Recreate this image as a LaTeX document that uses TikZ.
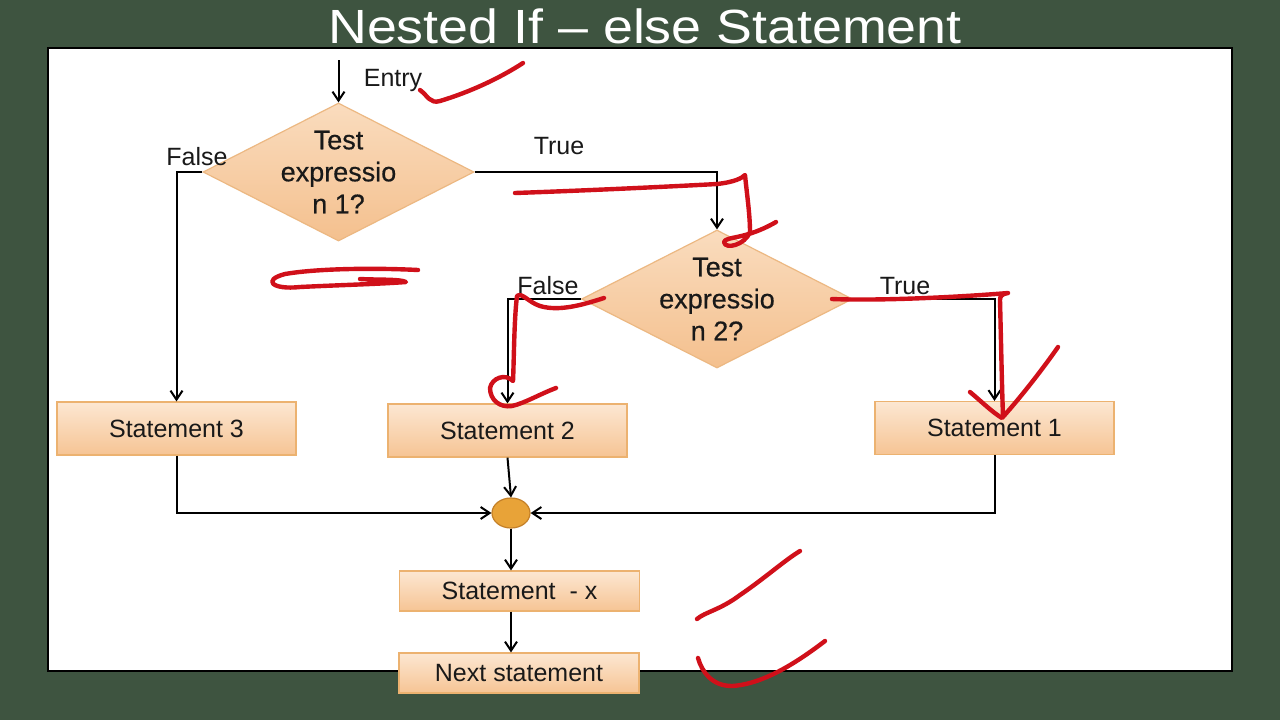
\documentclass[tikz,border=0pt]{standalone}
\usepackage{fontspec}
\setmainfont{Liberation Sans}
\newfontfamily\diafont[FakeBold=0.5]{Liberation Sans}
\usetikzlibrary{arrows.meta,shapes.geometric}
\definecolor{bggreen}{RGB}{62,84,64}
\definecolor{boxtop}{RGB}{252,231,210}
\definecolor{boxbot}{RGB}{246,196,148}
\definecolor{boxline}{RGB}{236,178,112}
\definecolor{diatop}{RGB}{250,220,190}
\definecolor{diabot}{RGB}{244,192,142}
\definecolor{dialine}{RGB}{236,184,130}
\definecolor{joinfill}{RGB}{232,163,56}
\definecolor{joinline}{RGB}{196,128,40}
\definecolor{inkred}{RGB}{208,16,26}
\definecolor{txt}{RGB}{25,25,25}
\tikzset{
  stmt/.style={rectangle, draw=boxline, line width=0.6pt, top color=boxtop, bottom color=boxbot,
    minimum width=119.5pt, minimum height=26.5pt, inner sep=0pt, text=txt,
    font=\fontsize{12.5pt}{15pt}\selectfont},
  stmtsmall/.style={stmt, minimum height=20pt, minimum width=120pt},
  dia/.style={diamond, draw=dialine, line width=0.6pt, top color=diatop, bottom color=diabot,
    minimum width=135.5pt, minimum height=69pt, inner sep=0pt},
  diatext/.style={align=center, text=txt, inner sep=0pt,
    font=\diafont\fontsize{13.5pt}{16pt}\selectfont},
  lbl/.style={text=txt, inner sep=0pt, font=\fontsize{12.5pt}{15pt}\selectfont},
  arr/.style={draw=black, line width=1pt, -{Straight Barb[length=4.5pt,width=6pt,line width=1pt]}},
  ink/.style={draw=inkred, line width=2.2pt, line cap=round, line join=round},
}
\begin{document}
\begin{tikzpicture}[x=0.5pt,y=-0.5pt]
\useasboundingbox (0,0) rectangle (1280,720);
% background and panel
\fill[bggreen] (0,0) rectangle (1280,720);
\draw[fill=white, draw=black, line width=1pt] (48,48) rectangle (1232,671);
\node[text=white, inner sep=0pt, font=\fontsize{24pt}{28pt}\selectfont] (title) at (645,26) {\scalebox{1.12}[1]{Nested If -- else Statement}};

% decisions
\node[dia] (d1) at (338.5,172) {};
\node[diatext] (d1t) at (338.5,172) {Test\\expressio\\n 1?};
\node[dia] (d2) at (717,299) {};
\node[diatext] (d2t) at (717,299) {Test\\expressio\\n 2?};

% statements
\node[stmt] (s3) at (176.5,428.5) {Statement 3};
\node[stmt] (s2) at (507.5,430.5) {Statement 2};
\node[stmt] (s1) at (994.5,428) {Statement 1};
\node[ellipse, draw=joinline, line width=0.6pt, fill=joinfill, minimum width=19pt, minimum height=15pt, inner sep=0pt] (j) at (511,513) {};
\node[stmtsmall] (sx) at (519.5,591) {Statement~~- x};
\node[stmtsmall] (ns) at (519,673) {Next statement};

% labels
\node[lbl] (entrylbl) at (393,80) {Entry};
\node[lbl] (f1) at (197,157) {False};
\node[lbl] (t1) at (559,146) {True};
\node[lbl] (f2) at (548,286) {False};
\node[lbl] (t2) at (905,286) {True};

% connectors
\coordinate (entry) at (338.5,60);
\draw[arr] (entry) -- (d1.north);
\draw[arr] (d1.west) -| (s3.north);
\draw[arr] (d1.east) -| (d2.north);
\draw[arr] (d2.west) -| (s2.north);
\draw[arr] (d2.east) -| (s1.north);
\draw[arr] (s3.south) |- (j.west);
\draw[arr] (s1.south) |- (j.east);
\draw[arr] (s2.south) -- (j.north);
\draw[arr] (j.south) -- (j.south |- sx.north);
\draw[arr] (j |- sx.south) -- (j |- ns.north);

% red handwritten marks
\draw[ink] (420,90) .. controls (428,96) and (430,104) .. (440,101) .. controls (470,92) and (500,78) .. (523,63);
\draw[ink] (515,193) .. controls (600,190) and (680,186) .. (717,184) .. controls (735,182) and (742,178) .. (745,175)
  .. controls (747,195) and (750,215) .. (750,232) .. controls (745,245) and (725,250) .. (724,242)
  .. controls (726,236) and (745,240) .. (776,222);
\draw[ink] (418,270) .. controls (380,268) and (320,268) .. (285,274) .. controls (262,280) and (272,290) .. (300,287)
  .. controls (340,285) and (380,284) .. (406,282) .. controls (400,279) and (380,280) .. (360,279);
\draw[ink] (604,298) .. controls (585,304) and (560,312) .. (540,306) .. controls (528,302) and (522,292) .. (517,296)
  .. controls (514,320) and (514,360) .. (513,381) .. controls (505,373) and (492,378) .. (490,388)
  .. controls (490,400) and (500,408) .. (512,406) .. controls (525,403) and (540,394) .. (556,388);
\draw[ink] (832,299) .. controls (880,301) and (960,297) .. (1008,293) .. controls (1002,294) and (1000,296) .. (1000,300)
  .. controls (1001,340) and (1002,390) .. (1003,416);
\draw[ink] (970,392) .. controls (982,402) and (992,412) .. (1002,418) .. controls (1020,398) and (1042,370) .. (1058,347);
\draw[ink] (697,619) .. controls (705,612) and (720,610) .. (740,595) .. controls (765,578) and (785,560) .. (800,551);
\draw[ink] (698,658) .. controls (702,672) and (712,686) .. (732,686) .. controls (765,684) and (800,660) .. (825,641);
\end{tikzpicture}
\end{document}
